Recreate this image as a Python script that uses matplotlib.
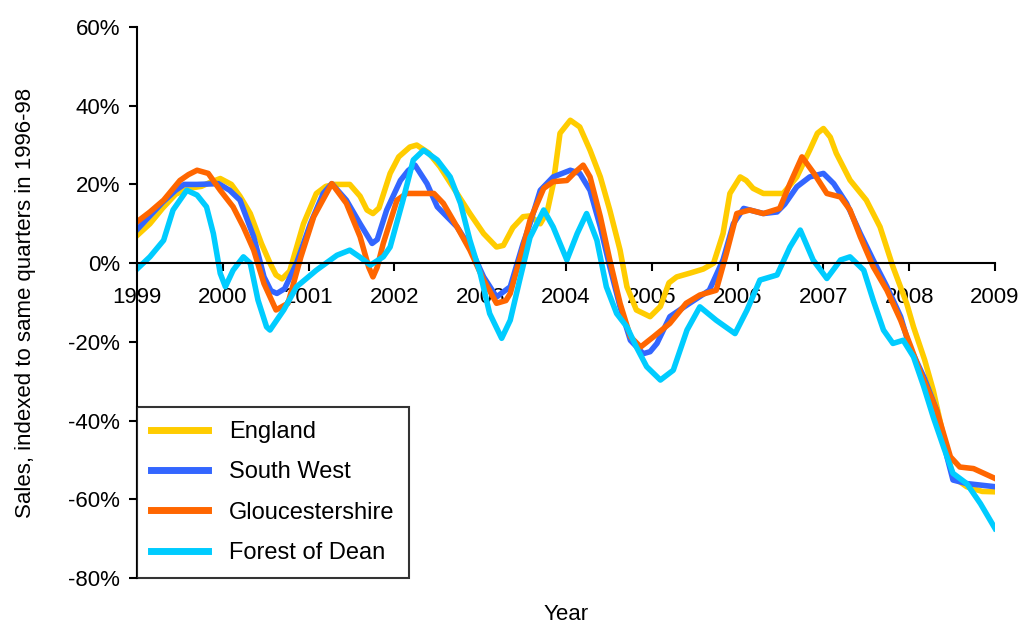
import matplotlib.pyplot as plt
from matplotlib.ticker import FuncFormatter

plt.rcParams['font.family'] = ['Liberation Sans', 'DejaVu Sans']

# values (year, % vs 1996-98)
england_x = [1999.0, 1999.15, 1999.3, 1999.45, 1999.6, 1999.75, 1999.85, 1999.97, 2000.1, 2000.2,
             2000.32, 2000.45, 2000.55, 2000.62, 2000.69, 2000.78, 2000.86, 2000.94, 2001.09, 2001.2,
             2001.3, 2001.48, 2001.6, 2001.68, 2001.75, 2001.82, 2001.95, 2002.05, 2002.18, 2002.26,
             2002.4, 2002.53, 2002.73, 2002.88, 2003.04, 2003.19, 2003.27, 2003.38, 2003.5, 2003.58,
             2003.7, 2003.78, 2003.85, 2003.93, 2004.05, 2004.16, 2004.28, 2004.4, 2004.51, 2004.63,
             2004.71, 2004.82, 2004.98, 2005.1, 2005.2, 2005.29, 2005.45, 2005.6, 2005.72, 2005.83,
             2005.91, 2006.03, 2006.1, 2006.18, 2006.3, 2006.53, 2006.6, 2006.69, 2006.84, 2006.93,
             2007.0, 2007.08, 2007.15, 2007.31, 2007.5, 2007.66, 2007.81, 2007.97, 2008.05, 2008.18,
             2008.28, 2008.4, 2008.51, 2008.67, 2008.85, 2009.0]
england_y = [7, 10, 14, 17.5, 19, 19.5, 20.5, 21.5, 20, 17,
             12.6, 5, 0, -3, -4, -2, 4, 10, 17.7, 19.5,
             20, 20, 17, 13.5, 12.6, 14, 22.8, 27, 29.5, 30,
             28, 24.5, 17.7, 12.6, 7.5, 4.1, 4.5, 9, 11.8, 12,
             10, 13, 20, 33, 36.3, 34.6, 28.7, 21.9, 13.5, 3.3,
             -6, -11.9, -13.6, -11, -5, -3.5, -2.5, -1.5, 0, 7.5,
             17.7, 21.9, 21, 19, 17.7, 17.7, 19.5, 21.9, 28.7, 33,
             34.2, 32, 27.9, 21.1, 16, 9.2, -0.9, -10.2, -16.2, -24.6,
             -32.3, -44.1, -54.3, -56.8, -58, -58.1]

sw_x = [1999.0, 1999.15, 1999.3, 1999.45, 1999.55, 1999.7, 1999.95, 2000.08, 2000.2, 2000.36,
        2000.48, 2000.56, 2000.63, 2000.72, 2000.86, 2001.02, 2001.17, 2001.27, 2001.44, 2001.6,
        2001.74, 2001.8, 2001.91, 2002.07, 2002.16, 2002.24, 2002.38, 2002.5, 2002.73, 2002.88,
        2003.04, 2003.19, 2003.35, 2003.5, 2003.58, 2003.7, 2003.85, 2004.05, 2004.16, 2004.28,
        2004.4, 2004.51, 2004.63, 2004.75, 2004.9, 2004.98, 2005.06, 2005.21, 2005.44, 2005.67,
        2005.83, 2005.95, 2006.07, 2006.3, 2006.46, 2006.55, 2006.69, 2006.84, 2007.0, 2007.12,
        2007.27, 2007.43, 2007.58, 2007.74, 2007.9, 2008.0, 2008.17, 2008.32, 2008.44, 2008.51,
        2008.67, 2009.0]
sw_y = [8.5, 12, 15.5, 18.5, 20, 20, 20.2, 18.5, 16, 6.7,
        -3.5, -7, -7.7, -6.5, 0, 10, 17.7, 20.2, 16, 10,
        5, 6, 13.5, 21, 23.5, 24.9, 20.2, 14.3, 9.2, 4.1,
        -3.5, -8.6, -6, 5, 10, 18.5, 21.9, 23.6, 22.8, 18.5,
        9.2, -0.9, -11.1, -19.6, -23, -22.5, -20.4, -13.6, -10.2, -6.9,
        0.8, 10, 13.9, 12.6, 13, 15, 19.4, 21.9, 22.8, 20.2,
        15.2, 7.5, 0.8, -6, -13.6, -21, -28.9, -37.4, -49.2, -55.1,
        -56, -56.8]

glos_x = [1999.0, 1999.15, 1999.31, 1999.5, 1999.6, 1999.7, 1999.83, 1999.97, 2000.12, 2000.24,
          2000.36, 2000.48, 2000.62, 2000.76, 2000.91, 2001.06, 2001.27, 2001.44, 2001.6, 2001.7,
          2001.75, 2001.8, 2001.87, 2002.03, 2002.14, 2002.46, 2002.57, 2002.73, 2002.88, 2003.04,
          2003.19, 2003.3, 2003.35, 2003.5, 2003.58, 2003.74, 2003.85, 2004.01, 2004.1, 2004.2,
          2004.28, 2004.4, 2004.51, 2004.63, 2004.75, 2004.87, 2005.02, 2005.21, 2005.4, 2005.56,
          2005.75, 2005.87, 2005.99, 2006.14, 2006.3, 2006.49, 2006.61, 2006.75, 2006.89, 2007.04,
          2007.2, 2007.31, 2007.43, 2007.58, 2007.74, 2007.9, 2008.02, 2008.12, 2008.32, 2008.48,
          2008.59, 2008.75, 2009.0]
glos_y = [10.5, 13, 16, 21, 22.5, 23.6, 22.8, 18.5, 14.3, 9.2,
          3.3, -5.2, -11.9, -10.2, 1.6, 11.8, 20.2, 15.2, 6.7, -1,
          -3.5, -1, 5, 16, 17.7, 17.7, 15.2, 9.2, 3.3, -4.3,
          -10.2, -9.5, -7.7, 4.1, 10.9, 19, 20.7, 21, 23, 24.9,
          21.9, 11.8, 0.8, -10.2, -18.7, -21.3, -18.7, -15.3, -10.2, -8.1,
          -6.9, 2.5, 12.6, 13.5, 12.6, 13.9, 20.2, 27, 22.8, 17.7,
          16.8, 13.5, 6.7, -0.9, -6.9, -14.5, -21.3, -27.2, -37.4, -49.2,
          -51.8, -52.2, -54.7]

dean_x = [1999.0, 1999.15, 1999.31, 1999.42, 1999.58, 1999.7, 1999.81, 1999.89, 1999.97, 2000.03,
          2000.12, 2000.24, 2000.32, 2000.41, 2000.51, 2000.55, 2000.71, 2000.86, 2001.09, 2001.33,
          2001.48, 2001.6, 2001.72, 2001.87, 2001.95, 2002.1, 2002.22, 2002.34, 2002.5, 2002.65,
          2002.77, 2002.88, 2003.0, 2003.11, 2003.25, 2003.35, 2003.46, 2003.58, 2003.74, 2003.85,
          2004.01, 2004.13, 2004.24, 2004.36, 2004.47, 2004.59, 2004.71, 2004.82, 2004.94, 2005.1,
          2005.25, 2005.41, 2005.56, 2005.75, 2005.97, 2006.11, 2006.26, 2006.46, 2006.61, 2006.73,
          2006.88, 2007.04, 2007.2, 2007.31, 2007.47, 2007.58, 2007.7, 2007.81, 2007.93, 2008.05,
          2008.17, 2008.28, 2008.4, 2008.51, 2008.67, 2008.83, 2009.0]
dean_y = [-1.5, 1.6, 5.8, 13.5, 18.5, 17.3, 14.3, 7.5, -2.6, -6,
          -1.8, 1.6, 0, -9.4, -16.2, -17, -11.9, -6, -1.8, 2,
          3.3, 1.5, -0.5, 1.6, 4.1, 16, 26.2, 28.7, 26.2, 21.9,
          15.2, 5.8, -2.6, -12.8, -19.1, -14.5, -4.3, 6.5, 13.5, 9.2,
          0.8, 7.5, 12.6, 5.8, -6, -12.8, -16.2, -21.3, -26.3, -29.7,
          -27.2, -17, -11.1, -14.5, -17.9, -11.9, -4.3, -3, 4.1, 8.4,
          0.8, -3.9, 0.8, 1.6, -1.8, -9.4, -17, -20.4, -19.6, -23.8,
          -31.4, -39.1, -46.7, -53.4, -56, -61.1, -67.4]

year_ticks = list(range(1999, 2010))
pct_ticks = [-80, -60, -40, -20, 0, 20, 40, 60]

fig = plt.figure(figsize=(10.24, 6.23), dpi=100)
ax = fig.add_axes([0.1338, 0.0722, 0.8379, 0.8845])

lw = 4
ax.plot(england_x, england_y, color='#FFCC00', lw=lw, label='England', solid_joinstyle='round')
ax.plot(sw_x, sw_y, color='#3366FF', lw=lw, label='South West', solid_joinstyle='round')
ax.plot(glos_x, glos_y, color='#FF6600', lw=lw, label='Gloucestershire', solid_joinstyle='round')
ax.plot(dean_x, dean_y, color='#00CCFF', lw=lw, label='Forest of Dean', solid_joinstyle='round')

ax.set_xlim(1999, 2009)
ax.set_ylim(-80, 60)
ax.set_xticks(year_ticks)
ax.set_yticks(pct_ticks)
ax.yaxis.set_major_formatter(FuncFormatter(lambda v, p: f'{v:.0f}%'))

ax.spines['top'].set_visible(False)
ax.spines['right'].set_visible(False)
ax.spines['bottom'].set_position(('data', 0))
for s in ('left', 'bottom'):
    ax.spines[s].set_linewidth(1.5)
ax.tick_params(axis='both', direction='out', length=6, width=1.5, labelsize=16)
ax.tick_params(axis='x', pad=11)
ax.tick_params(axis='y', pad=6)

ax.set_ylabel('Sales, indexed to same quarters in 1996-98', fontsize=16)
ax.yaxis.set_label_coords(-0.118, 0.5)
fig.text(566 / 1024, 1 - 614 / 623, 'Year', fontsize=16, ha='center', va='center')

leg = ax.legend(loc='lower left', bbox_to_anchor=(0, 0), borderaxespad=0, fontsize=17,
                frameon=True, fancybox=False, edgecolor='black', handlelength=2.4,
                handletextpad=0.9, labelspacing=0.77, borderpad=0.6)
leg.get_frame().set_linewidth(1.5)
for h in leg.get_lines():
    h.set_linewidth(5)

fig.savefig('out.png', dpi=100)
